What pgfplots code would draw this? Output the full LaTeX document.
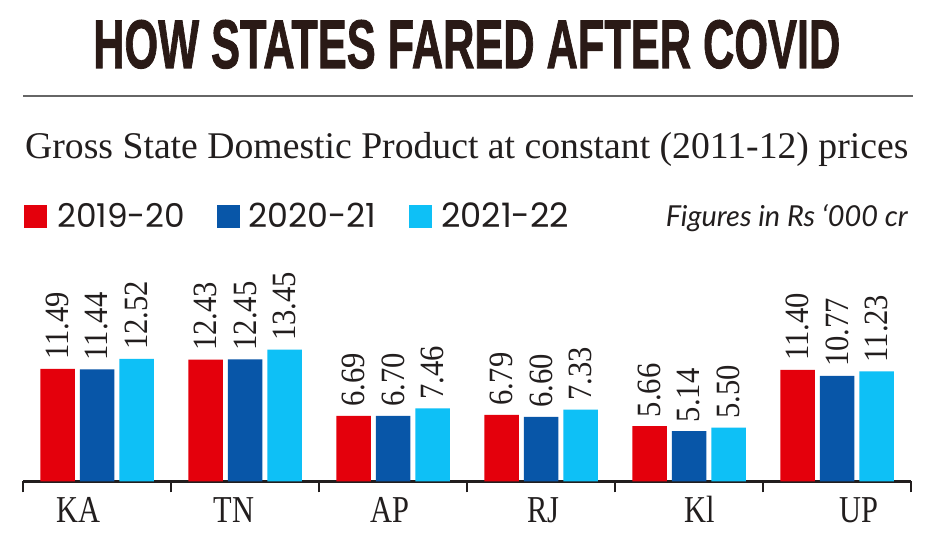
\documentclass[border=0pt]{standalone}
\usepackage{pgfplots}
\pgfplotsset{compat=1.18}
\usepackage{fontspec}
\setmainfont{Liberation Serif}
\newfontfamily\titlefont[BoldFeatures={FakeBold=1.5}]{Liberation Sans}
\newfontfamily\valfont[FakeStretch=0.9]{Liberation Serif}
\newfontfamily\catfont[FakeStretch=0.8]{Liberation Serif}
\newfontfamily\legfont{Poppins}
\newfontfamily\notefont{Lato}
\definecolor{cRed}{RGB}{228,0,12}
\definecolor{cBlue}{RGB}{8,86,168}
\definecolor{cLight}{RGB}{14,192,246}
\definecolor{txt}{RGB}{34,30,30}
\definecolor{ttl}{RGB}{42,26,22}
\begin{document}
\begin{tikzpicture}[x=1pt,y=1pt]
\useasboundingbox (0,0) rectangle (942,543);
\fill[white] (0,0) rectangle (942,543);
% title
\node[anchor=base west, inner sep=0pt, text=ttl] at (93,475)
  {\resizebox{747pt}{48pt}{\titlefont\bfseries HOW STATES FARED AFTER COVID}};
\draw[line width=2pt, color=black!60] (23,447) -- (913,447);
% subtitle
\node[anchor=base west, inner sep=0pt, text=txt] at (25,384.5)
  {\resizebox{883pt}{!}{Gross State Domestic Product at constant (2011-12) prices}};
% legend
\fill[cRed] (24,315) rectangle (47,338);
\node[anchor=base west, inner sep=0pt, text=txt] at (57,315) {\resizebox{128pt}{!}{\legfont 2019-20}};
\fill[cBlue] (217,315) rectangle (240,338);
\node[anchor=base west, inner sep=0pt, text=txt] at (248,315) {\resizebox{128pt}{!}{\legfont 2020-21}};
\fill[cLight] (409,315) rectangle (432,338);
\node[anchor=base west, inner sep=0pt, text=txt] at (441,315) {\resizebox{128pt}{!}{\legfont 2021-22}};
\node[anchor=base east, inner sep=0pt, text=txt] at (908,316) {\resizebox{242pt}{!}{\notefont\itshape Figures in Rs ‘000 cr}};
\begin{axis}[
  at={(23pt,61.5pt)}, anchor=south west,
  scale only axis, width=888pt, height=156.8pt,
  xmin=-0.5, xmax=5.5, ymin=0, ymax=16,
  axis y line=none, axis x line*=bottom,
  ytick=\empty,
  x axis line style={line width=2.5pt, color=txt},
  xtick={-0.5,0.5,1.5,2.5,3.5,4.5,5.5}, xticklabels={},
  xtick pos=bottom,
  tick align=outside, major tick length=11pt,
  x tick style={line width=2.5pt, color=txt},
  extra x ticks={-0.122,0.926,1.98,3.014,4.074,5.149},
  extra x tick labels={KA,TN,AP,RJ,Kl,UP},
  extra x tick style={major tick length=0pt,
    xticklabel style={anchor=base, yshift=-41.5pt, text=txt,
      font=\catfont\fontsize{38}{38}\selectfont}},
  ybar=5pt, bar width=34.5pt,
  clip=false,
  point meta=explicit symbolic,
  nodes near coords,
  every node near coord/.append style={rotate=90, anchor=west, inner sep=0pt,
    outer xsep=9pt, text=txt, font=\valfont\fontsize{34}{34}\selectfont},
]
\addplot[fill=cRed, draw=none] coordinates {(0,11.49)[11.49] (1,12.43)[12.43] (2,6.69)[6.69] (3,6.79)[6.79] (4,5.66)[5.66] (5,11.40)[11.40]};
\addplot[fill=cBlue, draw=none] coordinates {(0,11.44)[11.44] (1,12.45)[12.45] (2,6.70)[6.70] (3,6.60)[6.60] (4,5.14)[5.14] (5,10.77)[10.77]};
\addplot[fill=cLight, draw=none] coordinates {(0,12.52)[12.52] (1,13.45)[13.45] (2,7.46)[7.46] (3,7.33)[7.33] (4,5.50)[5.50] (5,11.23)[11.23]};
\end{axis}
\end{tikzpicture}
\end{document}
